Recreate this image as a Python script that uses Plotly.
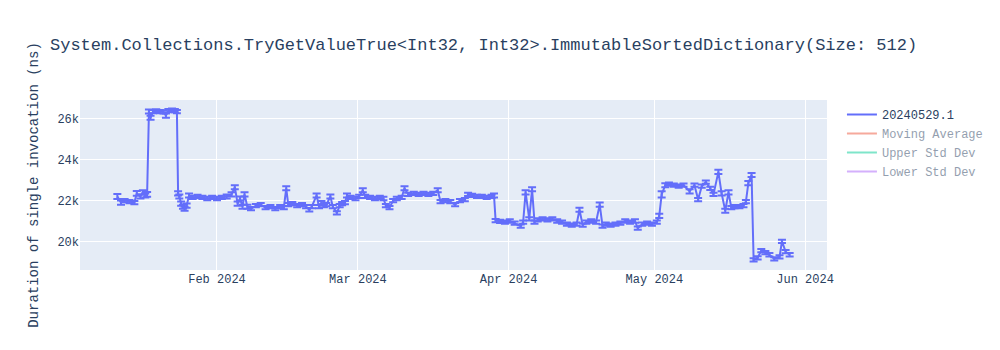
import plotly.graph_objects as go
import pandas as pd

dates = [
    "2024-01-11 12:00", "2024-01-12 06:00", "2024-01-13 00:00", "2024-01-14 00:00", "2024-01-15 00:00",
    "2024-01-15 12:00", "2024-01-16 06:00", "2024-01-16 18:00", "2024-01-17 06:00", "2024-01-17 15:00",
    "2024-01-18 00:00", "2024-01-18 08:00", "2024-01-18 20:00", "2024-01-19 12:00", "2024-01-20 06:00",
    "2024-01-21 00:00", "2024-01-21 12:00", "2024-01-22 00:00", "2024-01-22 18:00", "2024-01-23 08:00",
    "2024-01-23 18:00", "2024-01-24 00:00", "2024-01-24 06:00", "2024-01-24 15:00", "2024-01-25 00:00",
    "2024-01-25 08:00", "2024-01-25 18:00", "2024-01-26 06:00", "2024-01-27 00:00", "2024-01-28 00:00",
    "2024-01-29 00:00", "2024-01-30 00:00", "2024-01-31 00:00", "2024-02-01 00:00", "2024-02-02 00:00",
    "2024-02-03 00:00", "2024-02-04 00:00", "2024-02-04 16:00", "2024-02-05 06:00", "2024-02-05 18:00",
    "2024-02-06 06:00", "2024-02-06 16:00", "2024-02-07 06:00", "2024-02-08 00:00", "2024-02-09 00:00",
    "2024-02-10 00:00", "2024-02-11 00:00", "2024-02-12 00:00", "2024-02-13 00:00", "2024-02-14 00:00",
    "2024-02-14 18:00", "2024-02-15 06:00", "2024-02-15 16:00", "2024-02-16 12:00", "2024-02-17 12:00",
    "2024-02-18 12:00", "2024-02-19 08:00", "2024-02-20 00:00", "2024-02-20 12:00", "2024-02-21 12:00",
    "2024-02-22 00:00", "2024-02-22 12:00", "2024-02-23 00:00", "2024-02-23 12:00", "2024-02-24 08:00",
    "2024-02-24 20:00", "2024-02-25 16:00", "2024-02-26 06:00", "2024-02-26 18:00", "2024-02-27 08:00",
    "2024-02-27 18:00", "2024-02-28 12:00", "2024-02-29 12:00", "2024-03-01 06:00", "2024-03-02 00:00",
    "2024-03-02 12:00", "2024-03-03 12:00", "2024-03-04 12:00", "2024-03-05 12:00", "2024-03-06 06:00",
    "2024-03-06 18:00", "2024-03-07 12:00", "2024-03-08 06:00", "2024-03-09 00:00", "2024-03-10 00:00",
    "2024-03-10 14:00", "2024-03-11 08:00", "2024-03-12 12:00", "2024-03-13 12:00", "2024-03-14 12:00",
    "2024-03-15 12:00", "2024-03-16 12:00", "2024-03-17 10:00", "2024-03-18 00:00", "2024-03-19 00:00",
    "2024-03-20 00:00", "2024-03-21 00:00", "2024-03-22 00:00", "2024-03-23 00:00", "2024-03-23 16:00",
    "2024-03-24 12:00", "2024-03-25 12:00", "2024-03-26 12:00", "2024-03-27 12:00", "2024-03-28 12:00",
    "2024-03-29 00:00", "2024-03-29 08:00", "2024-03-30 06:00", "2024-03-31 06:00", "2024-04-01 06:00",
    "2024-04-02 06:00", "2024-04-03 12:00", "2024-04-04 00:00", "2024-04-04 12:00", "2024-04-05 06:00",
    "2024-04-05 20:00", "2024-04-06 08:00", "2024-04-07 00:00", "2024-04-08 00:00", "2024-04-09 00:00",
    "2024-04-10 00:00", "2024-04-11 00:00", "2024-04-12 00:00", "2024-04-13 00:00", "2024-04-14 00:00",
    "2024-04-15 00:00", "2024-04-15 14:00", "2024-04-16 06:00", "2024-04-17 00:00", "2024-04-18 00:00",
    "2024-04-19 00:00", "2024-04-19 18:00", "2024-04-20 08:00", "2024-04-21 00:00", "2024-04-22 00:00",
    "2024-04-23 00:00", "2024-04-24 00:00", "2024-04-25 00:00", "2024-04-26 00:00", "2024-04-27 00:00",
    "2024-04-27 14:00", "2024-04-28 12:00", "2024-04-29 12:00", "2024-04-30 12:00", "2024-05-01 12:00",
    "2024-05-02 00:00", "2024-05-02 12:00", "2024-05-03 06:00", "2024-05-04 00:00", "2024-05-05 00:00",
    "2024-05-06 00:00", "2024-05-07 00:00", "2024-05-08 06:00", "2024-05-09 06:00", "2024-05-10 00:00",
    "2024-05-10 18:00", "2024-05-11 14:00", "2024-05-12 12:00", "2024-05-13 04:00", "2024-05-14 04:00",
    "2024-05-14 20:00", "2024-05-15 14:00", "2024-05-16 06:00", "2024-05-16 20:00", "2024-05-17 12:00",
    "2024-05-18 12:00", "2024-05-19 08:00", "2024-05-19 20:00", "2024-05-20 08:00", "2024-05-21 00:00",
    "2024-05-21 10:00", "2024-05-22 06:00", "2024-05-23 00:00", "2024-05-23 20:00", "2024-05-24 16:00",
    "2024-05-25 16:00", "2024-05-26 18:00", "2024-05-27 06:00", "2024-05-28 00:00", "2024-05-28 20:00",
]

durations = [
    22200, 21900, 22000, 21950, 21900,
    22350, 22200, 22400, 22250, 22300,
    26350, 26050, 26350, 26380, 26350,
    26330, 26150, 26400, 26420, 26400,
    26350, 22350, 22200, 21850, 21700,
    21600, 21750, 22250, 22150, 22200,
    22150, 22100, 22150, 22100, 22150,
    22200, 22300, 22650, 21850, 22100,
    21700, 22300, 21700, 21600, 21750,
    21800, 21650, 21700, 21600, 21700,
    21650, 22600, 21800, 21850, 21750,
    21800, 21700, 21550, 21700, 22250,
    21700, 21900, 21750, 21800, 22200,
    21700, 21400, 21750, 21850, 21900,
    22250, 22150, 22100, 22200, 22500,
    22200, 22150, 22100, 22150, 22100,
    21750, 21650, 22000, 22100, 22150,
    22600, 22300, 22350, 22300, 22350,
    22300, 22350, 22500, 21950, 22000,
    21950, 21800, 22000, 22050, 22300,
    22250, 22200, 22200, 22150, 22200,
    22250, 21020, 20980, 20950, 21000,
    20900, 20750, 20950, 22400, 21100,
    22550, 20950, 21050, 21100, 21050,
    21100, 21000, 20950, 20850, 20800,
    20850, 21550, 20800, 20950, 21000,
    20950, 21800, 20750, 20850, 20800,
    20850, 20900, 21000, 20950, 21000,
    20650, 20850, 20900, 20850, 20950,
    21250, 22300, 22750, 22800, 22750,
    22700, 22750, 22450, 22750, 22050,
    22700, 22900, 22600, 22300, 23400,
    22350, 21500, 22400, 21650, 21700,
    21700, 21750, 21950, 22850, 23250,
    19100, 19200, 19550, 19450, 19350,
    19150, 19250, 20000, 19500, 19350,
]

errors = [
    120, 100, 80, 80, 80,
    120, 100, 100, 100, 120,
    100, 100, 80, 80, 80,
    80, 100, 80, 80, 80,
    80, 100, 100, 100, 100,
    100, 100, 100, 80, 80,
    80, 80, 80, 80, 80,
    100, 100, 100, 100, 100,
    100, 100, 100, 80, 80,
    80, 80, 80, 80, 80,
    80, 100, 80, 80, 80,
    80, 80, 80, 80, 100,
    80, 80, 80, 80, 100,
    80, 80, 80, 80, 80,
    100, 80, 80, 80, 100,
    80, 80, 80, 80, 80,
    80, 80, 80, 80, 80,
    100, 80, 80, 80, 80,
    80, 80, 100, 80, 80,
    80, 80, 80, 80, 80,
    80, 80, 80, 80, 80,
    100, 80, 80, 80, 80,
    80, 80, 80, 100, 80,
    100, 80, 80, 80, 80,
    80, 80, 80, 80, 80,
    80, 100, 80, 80, 80,
    80, 100, 80, 80, 80,
    80, 80, 80, 80, 80,
    80, 80, 80, 80, 80,
    100, 150, 100, 80, 80,
    80, 80, 100, 80, 80,
    80, 80, 80, 80, 100,
    100, 100, 100, 80, 80,
    80, 80, 80, 100, 100,
    80, 80, 80, 80, 80,
    80, 80, 80, 80, 80,
]

series_name = "20240529.1"
title_text = "System.Collections.TryGetValueTrue<Int32, Int32>.ImmutableSortedDictionary(Size: 512)"
y_title = "Duration of single invocation (ns)"

s = pd.Series(durations)
moving_avg = s.rolling(window=5, min_periods=1).mean()
moving_std = s.rolling(window=5, min_periods=1).std().fillna(0)
upper = moving_avg + moving_std
lower = moving_avg - moving_std

fig = go.Figure()
fig.add_trace(go.Scatter(
    x=dates, y=durations, mode="lines", name=series_name,
    error_y=dict(type="data", array=errors, visible=True),
))
fig.add_trace(go.Scatter(x=dates, y=list(moving_avg), mode="lines", name="Moving Average", visible="legendonly"))
fig.add_trace(go.Scatter(x=dates, y=list(upper), mode="lines", name="Upper Std Dev", visible="legendonly"))
fig.add_trace(go.Scatter(x=dates, y=list(lower), mode="lines", name="Lower Std Dev", visible="legendonly"))

fig.update_layout(
    title=dict(text=title_text),
    yaxis=dict(title=dict(text=y_title)),
    font=dict(family="Liberation Mono, Courier New, monospace"),
    width=1000, height=350,
)

fig.write_html("out.html")
